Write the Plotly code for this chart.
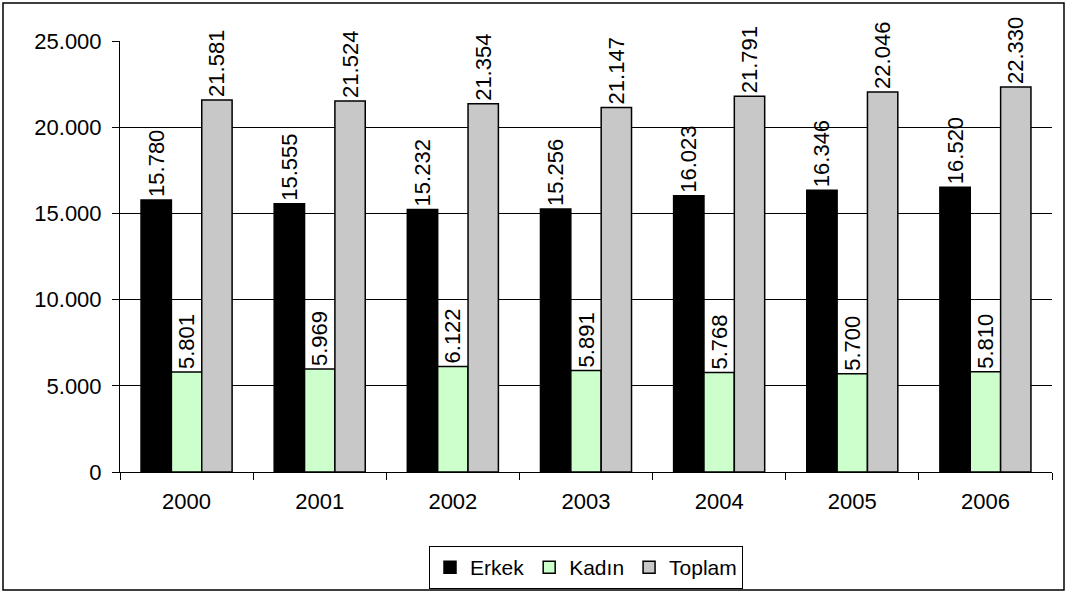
import plotly.graph_objects as go

years = ["2000", "2001", "2002", "2003", "2004", "2005", "2006"]
erkek = [15780, 15555, 15232, 15256, 16023, 16346, 16520]
kadin = [5801, 5969, 6122, 5891, 5768, 5700, 5810]
toplam = [21581, 21524, 21354, 21147, 21791, 22046, 22330]

def fmt(v):
    return f"{v:,}".replace(",", ".")

FONT = "Liberation Sans, Arial, sans-serif"
series = [
    ("Erkek", erkek, "#000000"),
    ("Kadın", kadin, "#CCFFCC"),
    ("Toplam", toplam, "#C8C8C8"),
]

fig = go.Figure()
for name, vals, col in series:
    fig.add_trace(go.Bar(
        x=years, y=vals, name=name,
        marker=dict(color=col, line=dict(color="#000000", width=1.5)),
        text=[fmt(v) for v in vals], textposition="outside", textangle=-90,
        textfont=dict(family=FONT, size=22, color="#000000"),
        constraintext="none",
        cliponaxis=False,
    ))

L, R, T, B = 120, 1052, 41, 472
W, H = 1068, 593
pw, ph = R - L, B - T

def px(x):
    return (x - L) / pw

def py(y):
    return (B - y) / ph

fig.update_layout(
    width=W, height=H,
    margin=dict(l=L, r=W - R, t=T, b=H - B, autoexpand=False),
    paper_bgcolor="white", plot_bgcolor="white",
    separators=",.",
    barmode="group", bargap=0.316, bargroupgap=0,
    font=dict(family=FONT, size=22, color="#000000"),
    showlegend=True,
    legend=dict(orientation="h", x=0.5, xanchor="center", y=py(546), yanchor="top",
                bordercolor="#000000", borderwidth=1, font=dict(size=21),
                itemwidth=30, tracegroupgap=0),
    xaxis=dict(type="category", showline=True, linecolor="#000000", linewidth=1,
               ticks="outside", tickson="boundaries", ticklen=7, tickcolor="#000000",
               showgrid=False, tickfont=dict(size=22), ticklabelstandoff=10),
    yaxis=dict(range=[0, 25000], tickvals=[0, 5000, 10000, 15000, 20000, 25000],
               tickformat=",d", showline=True, linecolor="#000000", linewidth=1,
               ticks="outside", ticklen=7, tickcolor="#000000",
               showgrid=True, gridcolor="#000000", gridwidth=1,
               zeroline=False, tickfont=dict(size=22), ticklabelstandoff=6),
    shapes=[dict(type="rect", xref="paper", yref="paper",
                 x0=px(3), x1=px(1064), y0=py(590), y1=py(3),
                 line=dict(color="#000000", width=1.5), fillcolor="rgba(0,0,0,0)",
                 layer="below")],
)

fig.write_html("out.html")
